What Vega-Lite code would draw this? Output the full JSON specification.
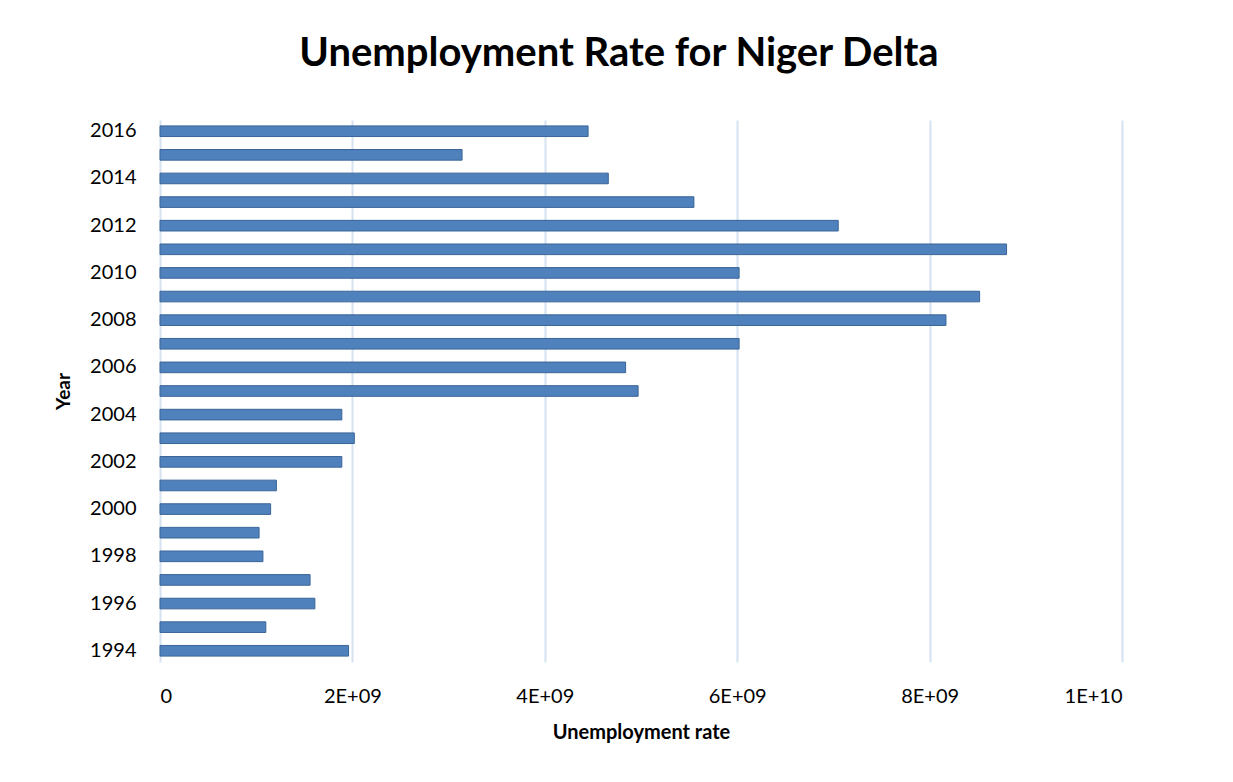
{
  "$schema": "https://vega.github.io/schema/vega-lite/v6.json",
  "autosize": "none",
  "width": 962,
  "height": 542,
  "padding": {"left": 160, "top": 120, "right": 111, "bottom": 120},
  "background": "white",
  "title": {
    "text": "Unemployment Rate for Niger Delta",
    "font": "Lato",
    "fontSize": 40,
    "fontWeight": "bold",
    "color": "#000000",
    "anchor": "middle",
    "dx": -22,
    "offset": 46
  },
  "data": {
    "values": [
      {"year": "1994", "rate": 1960000000},
      {"year": "1995", "rate": 1100000000},
      {"year": "1996", "rate": 1610000000},
      {"year": "1997", "rate": 1560000000},
      {"year": "1998", "rate": 1070000000},
      {"year": "1999", "rate": 1030000000},
      {"year": "2000", "rate": 1150000000},
      {"year": "2001", "rate": 1210000000},
      {"year": "2002", "rate": 1890000000},
      {"year": "2003", "rate": 2020000000},
      {"year": "2004", "rate": 1890000000},
      {"year": "2005", "rate": 4970000000},
      {"year": "2006", "rate": 4840000000},
      {"year": "2007", "rate": 6020000000},
      {"year": "2008", "rate": 8170000000},
      {"year": "2009", "rate": 8520000000},
      {"year": "2010", "rate": 6020000000},
      {"year": "2011", "rate": 8800000000},
      {"year": "2012", "rate": 7050000000},
      {"year": "2013", "rate": 5550000000},
      {"year": "2014", "rate": 4660000000},
      {"year": "2015", "rate": 3140000000},
      {"year": "2016", "rate": 4450000000}
    ]
  },
  "mark": {"type": "bar", "color": "#4F81BD", "stroke": "#3A6597", "strokeWidth": 1},
  "encoding": {
    "y": {
      "field": "year",
      "type": "ordinal",
      "sort": "descending",
      "scale": {"paddingInner": 0.55, "paddingOuter": 0.25},
      "axis": {
        "title": "Year",
        "titleFont": "Lato",
        "titleFontSize": 19,
        "titleFontWeight": "bold",
        "titleColor": "#000000",
        "titlePadding": 16,
        "labelFont": "Lato",
        "labelFontSize": 20,
        "labelColor": "#000000",
        "labelPadding": 24,
        "labelExpr": "toNumber(datum.value) % 2 == 0 ? datum.value : ''",
        "domain": false,
        "ticks": false,
        "grid": false
      }
    },
    "x": {
      "field": "rate",
      "type": "quantitative",
      "scale": {"domain": [0, 10000000000], "nice": false},
      "axis": {
        "title": "Unemployment rate",
        "titleFont": "Lato",
        "titleFontSize": 20,
        "titleFontWeight": "bold",
        "titleColor": "#000000",
        "titlePadding": 16,
        "values": [0, 2000000000, 4000000000, 6000000000, 8000000000, 10000000000],
        "labelExpr": "datum.value == 0 ? '0' : (datum.value >= 10000000000 ? '1E+10' : (datum.value / 1000000000) + 'E+09')",
        "labelFont": "Lato",
        "labelFontSize": 20,
        "labelColor": "#000000",
        "labelPadding": 24,
        "domain": false,
        "ticks": false,
        "grid": true,
        "gridColor": "#D6E1F2",
        "gridWidth": 2
      }
    }
  },
  "config": {"view": {"stroke": null}}
}
